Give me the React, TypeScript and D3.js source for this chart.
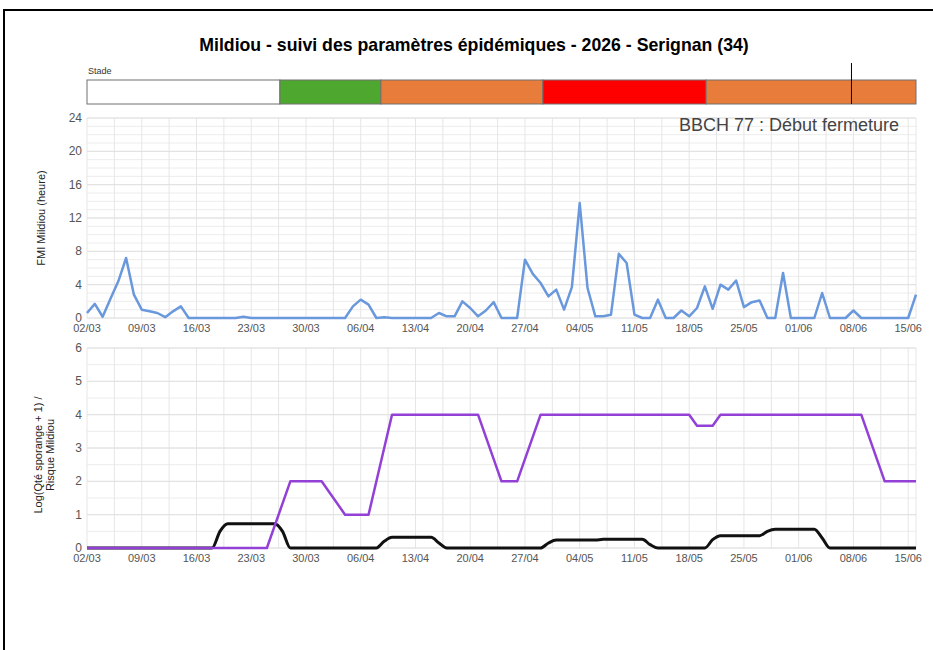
import * as d3 from 'd3';

const title = 'Mildiou - suivi des paramètres épidémiques - 2026 - Serignan (34)';
const stageLabel = 'BBCH 77 : Début fermeture';

// tick labels shared by both panels
const xTickLabels = ['02/03', '09/03', '16/03', '23/03', '30/03', '06/04', '13/04', '20/04',
  '27/04', '04/05', '11/05', '18/05', '25/05', '01/06', '08/06', '15/06'];
const fmiTicks = [0, 4, 8, 12, 16, 20, 24];
const riskTicks = [0, 1, 2, 3, 4, 5, 6];

// stade bar: segment starts (last one runs to the end) and colours
const stageStarts = ['2026-03-02T00:00Z', '2026-03-26T16:00Z', '2026-04-08T14:00Z',
  '2026-04-29T07:00Z', '2026-05-20T04:00Z'];
const stageColors = ['#ffffff', '#4ea72e', '#e77c3b', '#ff0000', '#e77c3b'];
const todayMark = '2026-06-07T18:00Z';

// FMI Mildiou (heure), one value per day from 02/03 to 16/06
const fmiValues = [
  0.6, 1.7, 0.15, 2.3, 4.4, 7.2, 2.8, 1.0, 0.8, 0.6, 0.1, 0.8, 1.4, 0,
  0, 0, 0, 0, 0, 0, 0.15, 0, 0, 0, 0, 0, 0, 0,
  0, 0, 0, 0, 0, 0, 1.4, 2.2, 1.6, 0, 0.1, 0, 0, 0,
  0, 0, 0, 0.6, 0.2, 0.2, 2.0, 1.2, 0.2, 0.9, 1.9, 0, 0, 0,
  7.0, 5.3, 4.2, 2.6, 3.4, 1.0, 3.7, 13.8, 3.6, 0.2, 0.2, 0.4, 7.7, 6.6,
  0.4, 0, 0, 2.2, 0, 0, 0.9, 0.2, 1.2, 3.8, 1.1, 4.0, 3.4, 4.5,
  1.3, 1.9, 2.1, 0, 0, 5.4, 0, 0, 0, 0, 3.0, 0, 0, 0,
  0.9, 0, 0, 0, 0, 0, 0, 0, 2.8,
];

// Risque Mildiou (purple)
const riskDates = ['02/03', '25/03', '28/03', '01/04', '04/04', '07/04', '10/04', '21/04', '24/04',
  '26/04', '29/04', '18/05', '19/05', '21/05', '22/05', '09/06', '12/06', '16/06'];
const riskValues = [0, 0, 2, 2, 1, 1, 4, 4, 2, 2, 4, 4, 3.67, 3.67, 4, 4, 2, 2];

// Log(Qté sporange + 1) (black)
const sporeDates = ['02/03', '18/03', '19/03', '20/03', '26/03', '27/03', '28/03', '08/04', '09/04',
  '10/04', '15/04', '16/04', '17/04', '29/04', '30/04', '01/05', '06/05', '07/05', '12/05', '13/05',
  '14/05', '20/05', '21/05', '22/05', '27/05', '28/05', '29/05', '03/06', '04/06', '05/06', '16/06'];
const sporeValues = [0, 0, 0.5, 0.73, 0.73, 0.5, 0, 0, 0.2, 0.32, 0.32, 0.15, 0, 0, 0.15, 0.24,
  0.24, 0.26, 0.26, 0.1, 0, 0, 0.25, 0.37, 0.37, 0.5, 0.56, 0.56, 0.3, 0, 0];

const FONT = '"Liberation Sans", Arial, sans-serif';
const DAY = 86400000;
const startDate = new Date(Date.UTC(2026, 2, 2));
const parseDM = (s: string) => {
  const [d, m] = s.split('/').map(Number);
  return new Date(Date.UTC(2026, m - 1, d));
};

const left = 87;
const right = 916;
const x = d3.scaleUtc().domain([startDate, new Date(Date.UTC(2026, 5, 16))]).range([left, right]);

function Panel({ top, bottom, y, ticks, minorStep, maxV, label }: {
  top: number; bottom: number; y: d3.ScaleLinear<number, number>; ticks: number[];
  minorStep: number; maxV: number; label: string[];
}) {
  const minor = d3.range(0, maxV + 0.001, minorStep);
  const halfWeeks = d3.range(0, 105.01, 3.5).map(d => new Date(startDate.getTime() + d * DAY));
  const labelY = (top + bottom) / 2 + (label.length > 1 ? 7 : 0);
  return (
    <g>
      {minor.map(v => (
        <line key={'h' + v} x1={left} x2={right} y1={y(v)} y2={y(v)} stroke="#ececec" />
      ))}
      {halfWeeks.map((d, i) => (
        <line key={'v' + i} x1={x(d)} x2={x(d)} y1={top} y2={bottom} stroke="#e6e6e6" />
      ))}
      <line x1={right} x2={right} y1={top} y2={bottom} stroke="#e6e6e6" />
      {ticks.map(v => (
        <line key={'m' + v} x1={left} x2={right} y1={y(v)} y2={y(v)} stroke="#e0e0e0" />
      ))}
      {ticks.map(v => (
        <text key={'t' + v} x={82} y={y(v) + 4} textAnchor="end" fontSize={12} fill="#555">{v}</text>
      ))}
      {xTickLabels.map(s => (
        <text key={s} x={x(parseDM(s))} y={bottom + 14} textAnchor="middle" fontSize={11} fill="#555">{s}</text>
      ))}
      <text transform={`translate(${label.length > 1 ? 44 : 41},${labelY}) rotate(-90)`}
        textAnchor="middle" fontSize={11} fill="#222">
        {label.map((l, i) => (
          <tspan key={i} x={0} dy={i === 0 ? -(label.length - 1) * 6.5 + 4 : 12}>{l}</tspan>
        ))}
      </text>
    </g>
  );
}

export default function App() {
  const yTop = d3.scaleLinear().domain([0, 24]).range([318, 118]);
  const yBot = d3.scaleLinear().domain([0, 6]).range([548, 348]);

  const fmiLine = d3.line<number>()
    .x((_, i) => x(new Date(startDate.getTime() + i * DAY)))
    .y(v => yTop(v))(fmiValues);
  const riskLine = d3.line<number>()
    .x((_, i) => x(parseDM(riskDates[i])))
    .y(v => yBot(v))(riskValues);
  const sporeLine = d3.line<number>()
    .curve(d3.curveMonotoneX)
    .x((_, i) => x(parseDM(sporeDates[i])))
    .y(v => yBot(v))(sporeValues);

  const stageEdges = [...stageStarts.map(s => new Date(s)), new Date(Date.UTC(2026, 5, 16))];

  return (
    <svg width={933} height={650} style={{ position: 'absolute', left: 0, top: 0, fontFamily: FONT }}>
      <rect width={933} height={650} fill="#fff" />
      <path d="M4,650 V10 H933" fill="none" stroke="#000" strokeWidth={2} />
      <text x={474} y={51} textAnchor="middle" fontSize={17.7} fontWeight="bold" fill="#000">{title}</text>

      <text x={88} y={74} fontSize={9} fill="#333">Stade</text>
      {stageColors.map((c, i) => (
        <rect key={i} x={x(stageEdges[i])} y={80} width={x(stageEdges[i + 1]) - x(stageEdges[i])}
          height={24} fill={c} stroke="#707070" strokeWidth={1} />
      ))}
      <line x1={x(new Date(todayMark))} x2={x(new Date(todayMark))} y1={63} y2={104} stroke="#000" />

      <Panel top={118} bottom={318} y={yTop} ticks={fmiTicks} minorStep={1} maxV={24}
        label={['FMI Mildiou (heure)']} />
      <Panel top={348} bottom={548} y={yBot} ticks={riskTicks} minorStep={0.5} maxV={6}
        label={['Log(Qté sporange + 1) /', 'Risque Mildiou']} />

      <text x={899} y={131} textAnchor="end" fontSize={18} fill="#444">{stageLabel}</text>

      <path d={fmiLine || undefined} fill="none" stroke="#6a98dc" strokeWidth={2.5} strokeLinejoin="round" />
      <path d={sporeLine || undefined} fill="none" stroke="#111" strokeWidth={3} strokeLinejoin="round" />
      <path d={riskLine || undefined} fill="none" stroke="#9340d6" strokeWidth={2.5} strokeLinejoin="round" />
    </svg>
  );
}
